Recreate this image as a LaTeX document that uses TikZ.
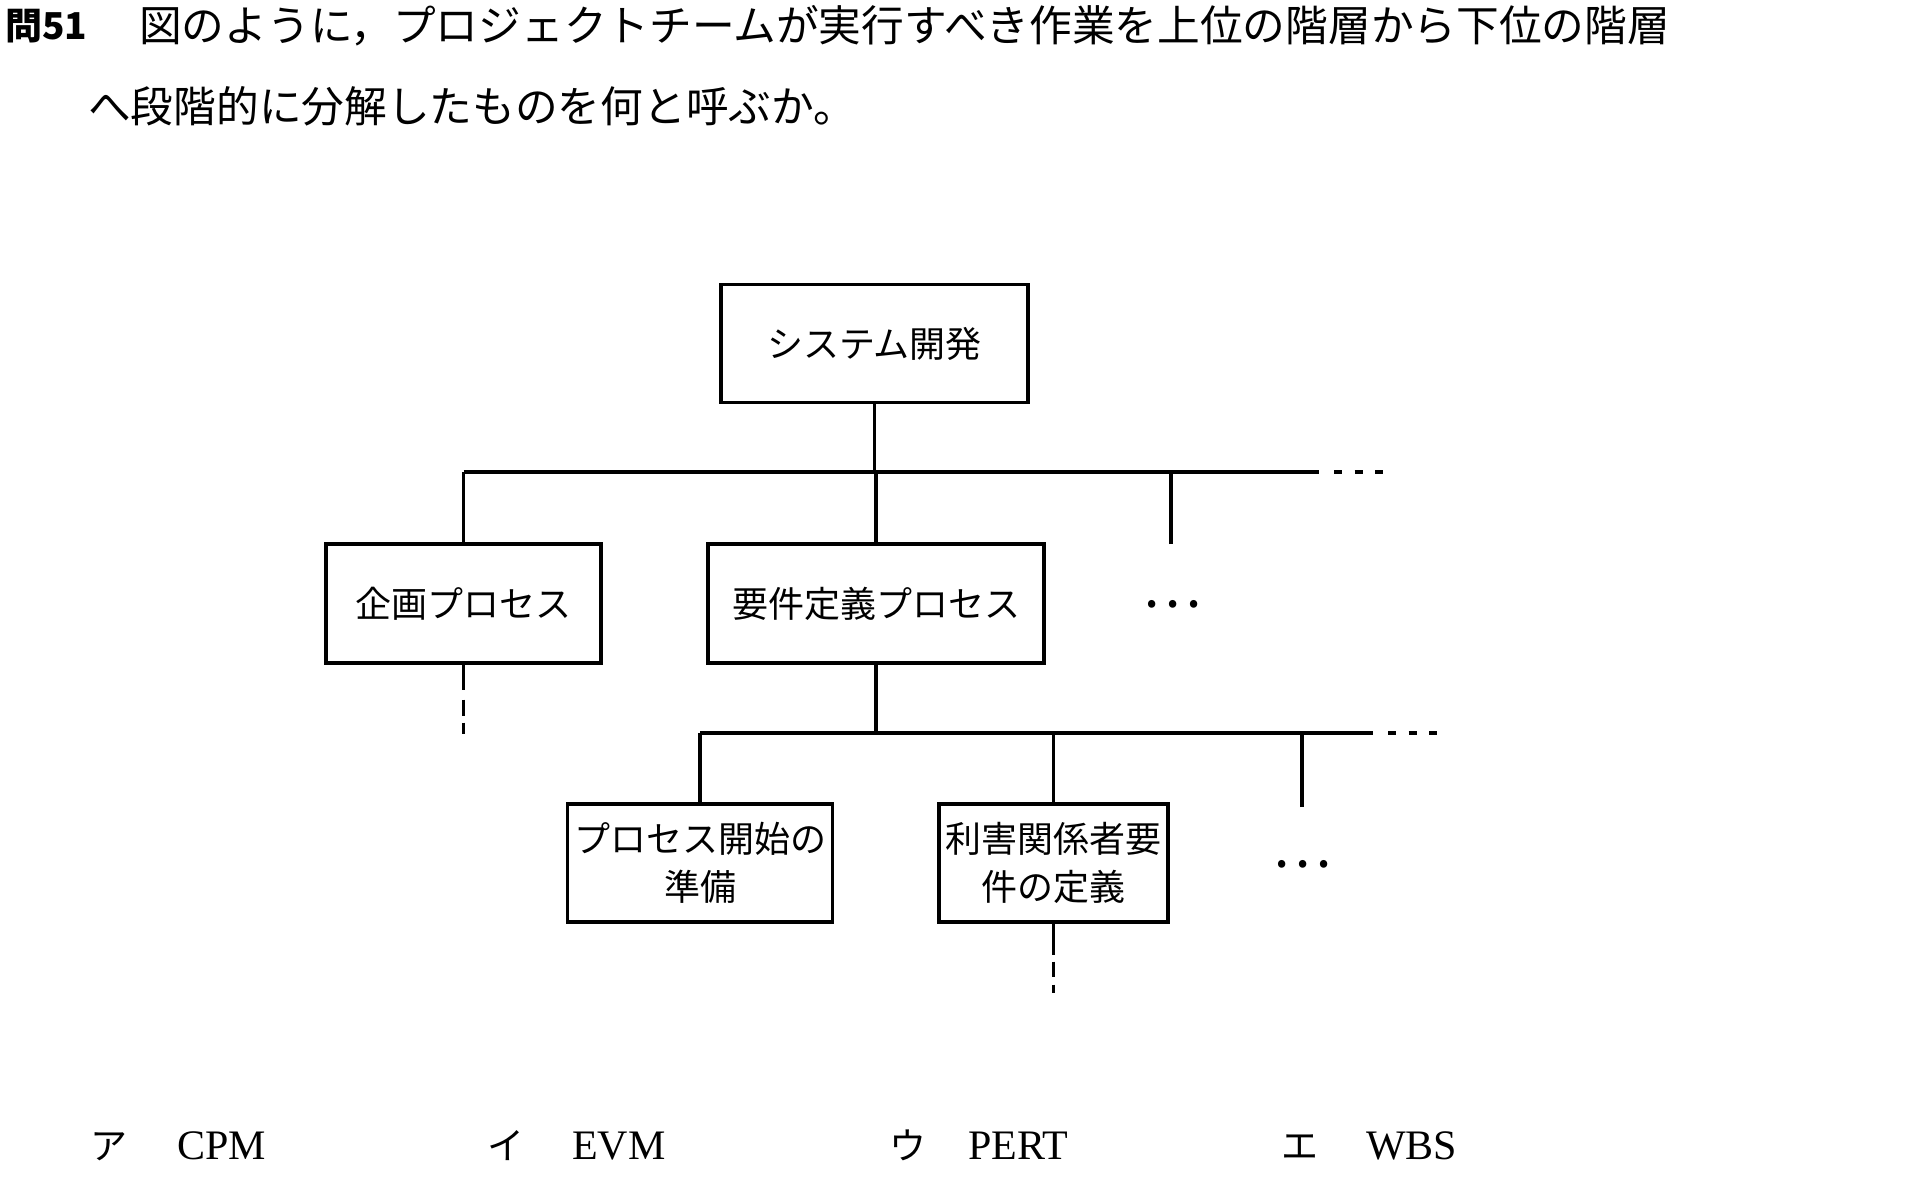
\documentclass[tikz,border=0pt]{standalone}
\usepackage{fontspec}
\setmainfont{Liberation Serif}
\newfontfamily\jp{Noto Sans CJK JP}
\begin{document}
\begin{tikzpicture}[x=1pt,y=-1pt,
  box/.style={draw, line width=3.2pt, inner sep=0pt, align=center,
    font=\jp\fontsize{36}{48}\selectfont},
  link/.style={line width=3.2pt},
  more/.style={line width=3.8pt, dash pattern=on 8pt off 12.5pt},
  cont1/.style={line width=2.8pt, dash pattern=on 25pt off 10pt on 16pt off 7pt on 12pt off 20pt},
  cont2/.style={line width=2.8pt, dash pattern=on 31pt off 7pt on 15pt off 8pt on 10pt off 20pt},
  qtext/.style={anchor=west, inner sep=0pt, font=\jp\fontsize{42.7}{50}\selectfont},
  qnum/.style={anchor=west, inner sep=0pt, font=\jp\bfseries\fontsize{37}{44}\selectfont},
  dotsym/.style={inner sep=0pt, font=\jp\fontsize{56}{60}\selectfont},
  kana/.style={anchor=base west, inner sep=0pt, font=\jp\fontsize{37}{40}\selectfont},
  ans/.style={anchor=base west, inner sep=0pt, font=\fontsize{42}{46}\selectfont}]
\fill[white] (0,0) rectangle (1924,1189);
\useasboundingbox (0,0) rectangle (1924,1189);

% question
\node[qnum] (qn) at (5,26) {問51};
\node[qtext] (q1) at (139,26) {図のように，プロジェクトチームが実行すべき作業を上位の階層から下位の階層};
\node[qtext] (q2) at (88,106) {へ段階的に分解したものを何と呼ぶか。};

% boxes
\node[box, minimum width=307pt, minimum height=118pt] (A) at (874.5,343.5) {システム開発};
\node[box, minimum width=275pt, minimum height=119pt] (B) at (463.5,603.5) {企画プロセス};
\node[box, minimum width=336pt, minimum height=119pt] (C) at (876,603.5) {要件定義プロセス};
\node[box, minimum width=265pt, minimum height=118pt] (D) at (700,863) {プロセス開始の\\準備};
\node[box, minimum width=229pt, minimum height=118pt] (E) at (1053.5,863) {利害関係者要\\件の定義};

\node[dotsym] (e1) at (1172,604) {…};
\node[dotsym] (e2) at (1302,864) {…};

% level 1 bar
\coordinate (bar1) at (0,472);
\coordinate (bar1end) at (1319,472);
\coordinate (s1) at (1171,544);
\coordinate (m1a) at (1334,472);
\coordinate (m1b) at (1386,472);
\draw[link] (A.south) -- (A.south |- bar1);
\draw[link] (B.north |- bar1) -- (bar1end);
\draw[link] (B.north) -- (B.north |- bar1);
\draw[link] (C.north) -- (C.north |- bar1);
\draw[link] (s1) -- (s1 |- bar1);
\draw[more] (m1a) -- (m1b);

% level 2 bar
\coordinate (bar2) at (0,733);
\coordinate (bar2end) at (1373,733);
\coordinate (s2) at (1302,807);
\coordinate (m2a) at (1388,733);
\coordinate (m2b) at (1440,733);
\draw[link] (C.south) -- (C.south |- bar2);
\draw[link] (D.north |- bar2) -- (bar2end);
\draw[link] (D.north) -- (D.north |- bar2);
\draw[link] (E.north) -- (E.north |- bar2);
\draw[link] (s2) -- (s2 |- bar2);
\draw[more] (m2a) -- (m2b);

% continuation lines
\coordinate (Bt) at (0,734);
\coordinate (Et) at (0,993);
\draw[cont1] (B.south) -- (B.south |- Bt);
\draw[cont2] (E.south) -- (E.south |- Et);

% answers
\node[kana] (ka) at (90,1159) {ア};
\node[ans] (aa) at (177,1159) {CPM};
\node[kana] (ki) at (487,1159) {イ};
\node[ans] (ai) at (572,1159) {EVM};
\node[kana] (ku) at (889,1159) {ウ};
\node[ans] (au) at (968,1159) {PERT};
\node[kana] (ke) at (1281,1159) {エ};
\node[ans] (ae) at (1366,1159) {WBS};
\end{tikzpicture}
\end{document}
